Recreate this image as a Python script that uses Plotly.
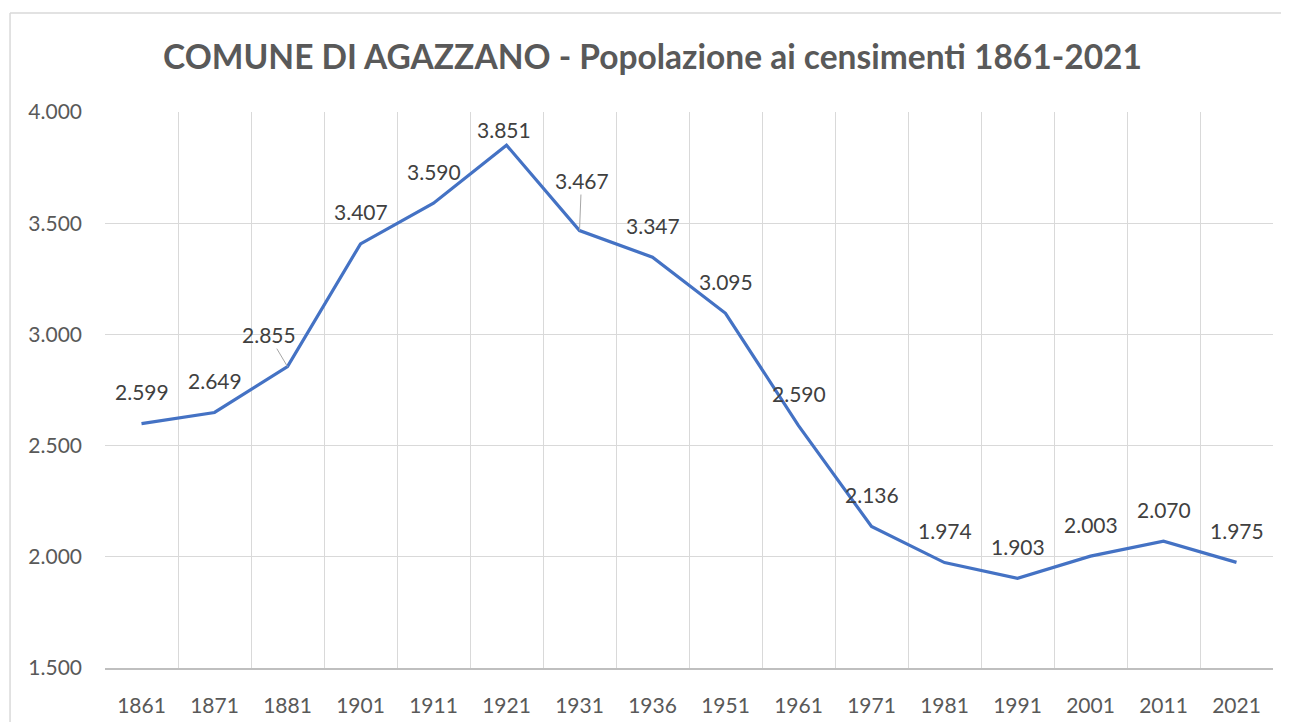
import plotly.graph_objects as go

# Dati del censimento
anni = ["1861", "1871", "1881", "1901", "1911", "1921", "1931", "1936",
        "1951", "1961", "1971", "1981", "1991", "2001", "2011", "2021"]
popolazione = [2599, 2649, 2855, 3407, 3590, 3851, 3467, 3347,
               3095, 2590, 2136, 1974, 1903, 2003, 2070, 1975]

titolo = "COMUNE DI AGAZZANO - Popolazione ai censimenti 1861-2021"
FONT = "Lato"

# Formato italiano per le etichette
def formatta(v):
    return f"{v:,}".replace(",", ".")

fig = go.Figure()
fig.add_trace(go.Scatter(
    x=anni, y=popolazione, mode="lines",
    line=dict(color="#4472C4", width=3.2),
    hoverinfo="x+y",
))

# Etichette dei dati (alcune con linea guida come in Excel)
spostamenti = {"1881": (-19, -32), "1931": (2, -50)}
for i, (anno, val) in enumerate(zip(anni, popolazione)):
    if anno in spostamenti:
        ax, ay = spostamenti[anno]
        fig.add_annotation(x=i, y=val, xref="x", yref="y", text=formatta(val),
                           showarrow=True, ax=ax, ay=ay, arrowhead=0,
                           arrowwidth=1, arrowcolor="#A6A6A6", standoff=0,
                           font=dict(family=FONT, size=21, color="#404040"))
    else:
        shift = 16 if anno == "1921" else 32
        dx = -3 if anno == "1921" else 0
        fig.add_annotation(x=i, y=val, xref="x", yref="y", text=formatta(val),
                           showarrow=False, yshift=shift, xshift=dx,
                           font=dict(family=FONT, size=21, color="#404040"))

# Cornice esterna del grafico (solo bordo sinistro e superiore visibili)
bordo = dict(color="#D9D9D9", width=1.5)
fig.add_shape(type="line", xref="paper", yref="paper",
              x0=-0.0813, x1=1.2, y0=1.178, y1=1.178, line=bordo, layer="below")
fig.add_shape(type="line", xref="paper", yref="paper",
              x0=-0.0813, x1=-0.0813, y0=1.178, y1=-0.3, line=bordo, layer="below")

fig.update_layout(
    width=1289, height=722,
    separators=",.",
    paper_bgcolor="white", plot_bgcolor="white",
    margin=dict(l=97, r=24, t=104, b=62),
    showlegend=False,
    title=dict(text=titolo, x=0.5, xanchor="center", y=0.932, yanchor="middle",
               font=dict(family=FONT, size=33.5, color="#595959", weight="bold")),
    font=dict(family=FONT, color="#595959"),
)
fig.update_xaxes(
    type="category", range=[-0.5, 15.5],
    tickson="boundaries", showgrid=True, gridcolor="#D9D9D9", gridwidth=1,
    ticks="", showline=True, linecolor="#BFBFBF", linewidth=1.5,
    tickfont=dict(family=FONT, size=21, color="#595959"),
    ticklabelstandoff=18,
)
fig.update_yaxes(
    range=[1500, 4000], dtick=500, tickformat=",.0f",
    showgrid=True, gridcolor="#D9D9D9", gridwidth=1,
    zeroline=False, showline=False, ticks="",
    tickfont=dict(family=FONT, size=21, color="#595959"),
    ticklabelstandoff=22,
)

fig.write_html("out.html")
